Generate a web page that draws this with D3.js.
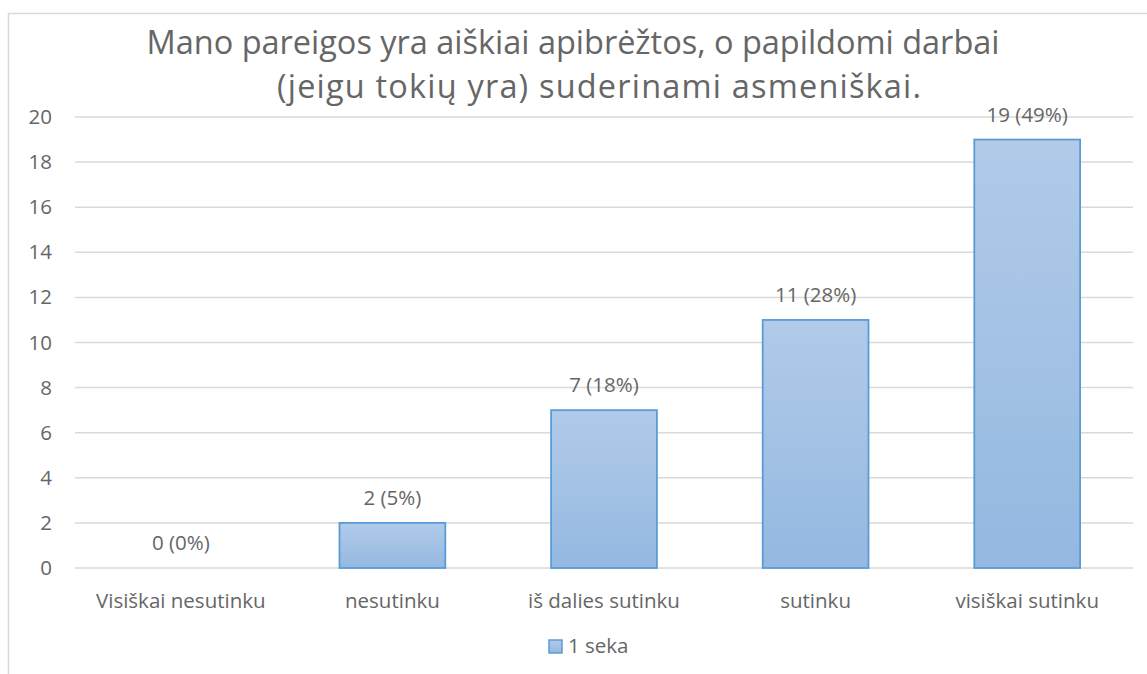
<!DOCTYPE html>
<html>
<head>
<meta charset="utf-8">
<script src="https://cdn.jsdelivr.net/npm/d3@7"></script>
<style>
  body { margin: 0; background: #fff; }
  text { font-family: "Open Sans", Lato, sans-serif; fill: #666666; }
</style>
</head>
<body>
<svg id="drawing_region"></svg>
<script>
const categories = ["Visiškai nesutinku", "nesutinku", "iš dalies sutinku", "sutinku", "visiškai sutinku"];
const values = [0, 2, 7, 11, 19];
const percents = ["0%", "5%", "18%", "28%", "49%"];
const yTicks = [0, 2, 4, 6, 8, 10, 12, 14, 16, 18, 20];
const titleLines = ["Mano pareigos yra aiškiai apibrėžtos, o papildomi darbai", "(jeigu tokių yra) suderinami asmeniškai."];
const seriesName = "1 seka";

const config = {
    width: 1147,
    height: 674,
    margin: {top: 117, right: 14, bottom: 106, left: 75}
};

const data = categories.map((c, i) => ({label: c, value: values[i], pct: percents[i]}));

const svg = d3.select('#drawing_region')
    .attr('width', config.width)
    .attr('height', config.height);

// chart frame
svg.append('rect')
    .attr('x', 8.5).attr('y', 13.5)
    .attr('width', 1300).attr('height', 800)
    .attr('fill', 'none')
    .attr('stroke', '#d9d9d9')
    .attr('stroke-width', 1.5);

const defs = svg.append('defs');
const grad = defs.append('linearGradient')
    .attr('id', 'barfill')
    .attr('x1', 0).attr('y1', 0).attr('x2', 0).attr('y2', 1);
grad.append('stop').attr('offset', '0%').attr('stop-color', '#b1cbe9');
grad.append('stop').attr('offset', '100%').attr('stop-color', '#94b8e1');

const inner_width = config.width - config.margin.left - config.margin.right;
const inner_height = config.height - config.margin.top - config.margin.bottom;

const chart = svg.append('g')
    .attr('transform', `translate(${config.margin.left}, ${config.margin.top})`);

const xscale = d3.scaleBand()
    .domain(categories)
    .range([0, inner_width])
    .paddingInner(0.5)
    .paddingOuter(0.25);

const yscale = d3.scaleLinear()
    .domain([0, 20])
    .range([inner_height, 0]);

// gridlines
chart.append('g')
    .selectAll('line')
    .data(yTicks)
    .join('line')
    .attr('x1', 0).attr('x2', inner_width)
    .attr('y1', d => yscale(d)).attr('y2', d => yscale(d))
    .attr('stroke', '#d9d9d9')
    .attr('stroke-width', 1.5);

// y axis labels
const yaxis = d3.axisLeft(yscale).tickValues(yTicks).tickSize(0).tickPadding(23);
const yaxis_group = chart.append('g').call(yaxis);
yaxis_group.select('.domain').remove();
yaxis_group.selectAll('text')
    .style('font-size', '20.5px')
    .attr('fill', '#666666')
    .style('font-family', '"Open Sans", sans-serif');

// x axis labels
const xaxis = d3.axisBottom(xscale).tickSize(0).tickPadding(25);
const xaxis_group = chart.append('g')
    .attr('transform', `translate(0, ${inner_height})`)
    .call(xaxis);
xaxis_group.select('.domain').remove();
xaxis_group.selectAll('text')
    .style('font-size', '20.5px')
    .attr('fill', '#666666')
    .style('font-family', '"Open Sans", sans-serif');

// bars
chart.selectAll('rect.bar')
    .data(data.filter(d => d.value > 0))
    .join('rect')
    .attr('class', 'bar')
    .attr('x', d => xscale(d.label))
    .attr('y', d => yscale(d.value))
    .attr('width', xscale.bandwidth())
    .attr('height', d => inner_height - yscale(d.value))
    .attr('fill', 'url(#barfill)')
    .attr('stroke', '#5b9bd5')
    .attr('stroke-width', 1.8);

// data labels
chart.selectAll('text.dlabel')
    .data(data)
    .join('text')
    .attr('class', 'dlabel')
    .attr('x', d => xscale(d.label) + xscale.bandwidth() / 2)
    .attr('y', d => yscale(d.value) - 18)
    .attr('text-anchor', 'middle')
    .style('font-size', '20.5px')
    .text(d => `${d.value} (${d.pct})`);

// title (two lines, widths stretched a bit to match the original font)
const titleX = [573, 599];
const titleW = [853, 644];
svg.append('g')
    .selectAll('text')
    .data(titleLines)
    .join('text')
    .attr('x', (d, i) => titleX[i])
    .attr('y', (d, i) => 54 + i * 44)
    .attr('text-anchor', 'middle')
    .attr('textLength', (d, i) => titleW[i])
    .attr('lengthAdjust', 'spacing')
    .style('font-size', '32.5px')
    .text(d => d);

// legend
const legend = svg.append('g').attr('transform', 'translate(549, 640)');
legend.append('rect')
    .attr('width', 13).attr('height', 13)
    .attr('fill', 'url(#barfill)')
    .attr('stroke', '#5b9bd5')
    .attr('stroke-width', 1.5);
legend.append('text')
    .attr('x', 19).attr('y', 13)
    .style('font-size', '20.5px')
    .text(seriesName);
</script>
</body>
</html>
